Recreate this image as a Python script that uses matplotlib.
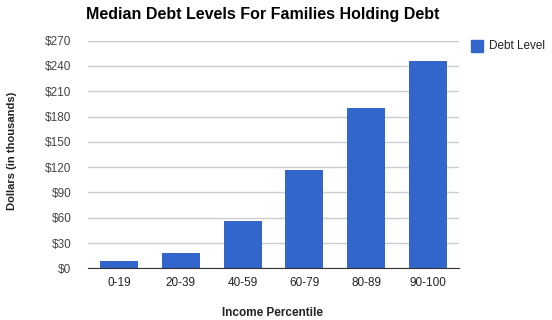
import numpy as np
import matplotlib.pyplot as plt
from matplotlib.patches import Rectangle

plt.rcParams['font.family'] = ['Liberation Sans', 'DejaVu Sans']

categories = ['0-19', '20-39', '40-59', '60-79', '80-89', '90-100']
debt = [8.7, 18, 56, 116.5, 190, 245.5]
yticks = list(range(0, 271, 30))

fig = plt.figure(figsize=(5.52, 3.2), dpi=100)
ax = fig.add_axes([88 / 552, 1 - 268.3 / 320, 371 / 552, 227.6 / 320])

x = np.arange(len(categories))
ax.bar(x, debt, width=0.615, color='#3366cc', zorder=3)

ax.set_xlim(-0.5, len(categories) - 0.5)
ax.set_ylim(0, 270)
ax.set_yticks(yticks)
ax.set_yticklabels(['$%d' % v for v in yticks], fontsize=8.5, color='#444444')
ax.set_xticks(x)
ax.set_xticklabels(categories, fontsize=8.5, color='#222222')
ax.tick_params(length=0)
ax.tick_params(axis='y', pad=12)
ax.tick_params(axis='x', pad=6)
ax.grid(axis='y', color='#cccccc', linewidth=1, zorder=0)
for s in ['top', 'right', 'left']:
    ax.spines[s].set_visible(False)
ax.spines['bottom'].set_color('#333333')
ax.spines['bottom'].set_zorder(4)

fig.text(263 / 552, 1 - 14 / 320, 'Median Debt Levels For Families Holding Debt',
         ha='center', va='center', fontsize=11.5, fontweight='bold')
fig.text(12 / 552, 1 - 151 / 320, 'Dollars (in thousands)', rotation=90,
         ha='center', va='center', fontsize=8, fontweight='bold', color='#222222')
fig.text(273 / 552, 1 - 313 / 320, 'Income Percentile',
         ha='center', va='center', fontsize=8.5, fontweight='bold', color='#222222')

# legend
fig.patches.append(Rectangle((471 / 552, 1 - 52 / 320), 12 / 552, 12 / 320,
                             transform=fig.transFigure, color='#3366cc'))
fig.text(489 / 552, 1 - 46 / 320, 'Debt Level', ha='left', va='center',
         fontsize=8.5, color='#222222')

fig.savefig('out.png', dpi=100)
